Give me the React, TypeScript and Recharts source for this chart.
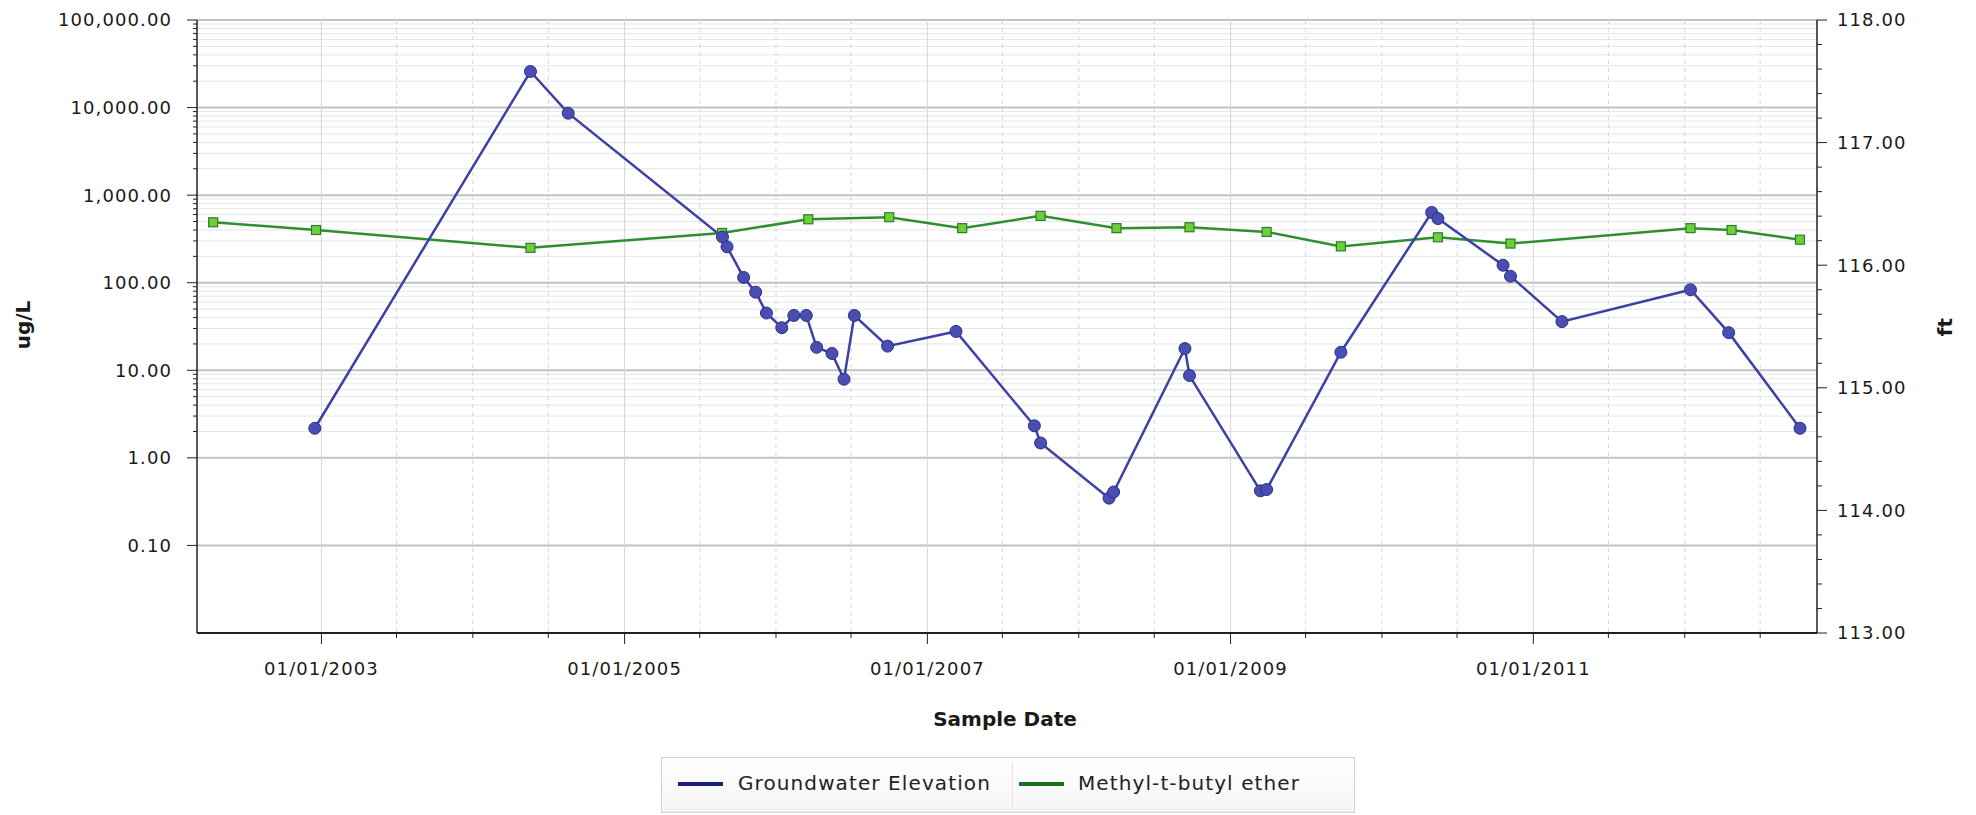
import { CartesianGrid, Line, LineChart, XAxis, YAxis } from "recharts";

const FONT = '"DejaVu Sans", Verdana, sans-serif';
const GW_COLOR = "#3d41a6";
const MTBE_COLOR = "#2f8f2f";

// Methyl-t-butyl ether, ug/L (left, log axis)
const mtbeDates = [
  "04/15/2002", "12/19/2002", "05/19/2004", "08/24/2005", "03/20/2006", "10/01/2006",
  "03/26/2007", "10/01/2007", "04/01/2008", "09/24/2008", "03/29/2009", "09/24/2009",
  "05/16/2010", "11/07/2010", "01/15/2012", "04/23/2012", "10/05/2012",
];
const mtbeValues = [490, 400, 250, 370, 530, 560, 420, 580, 420, 430, 380, 260, 330, 280, 420, 400, 310];

// Groundwater elevation, ft (right axis)
const gwDates = [
  "12/16/2002", "05/19/2004", "08/18/2004", "08/25/2005", "09/05/2005", "10/15/2005",
  "11/13/2005", "12/09/2005", "01/15/2006", "02/13/2006", "03/15/2006", "04/09/2006",
  "05/16/2006", "06/14/2006", "07/09/2006", "09/27/2006", "03/11/2007", "09/16/2007",
  "10/01/2007", "03/14/2008", "03/25/2008", "09/13/2008", "09/24/2008", "03/14/2009",
  "03/29/2009", "09/24/2009", "05/01/2010", "05/16/2010", "10/20/2010", "11/07/2010",
  "03/11/2011", "01/15/2012", "04/16/2012", "10/05/2012",
];
const gwValues = [
  114.67, 117.58, 117.24, 116.23, 116.15, 115.9, 115.78, 115.61, 115.49, 115.59, 115.59, 115.33,
  115.28, 115.07, 115.59, 115.34, 115.46, 114.69, 114.55, 114.1, 114.15, 115.32, 115.1, 114.16,
  114.17, 115.29, 116.43, 116.38, 116.0, 115.91, 115.54, 115.8, 115.45, 114.67,
];

const xDomainDates = ["03/07/2002", "11/15/2012"];
const xMajorTickDates = ["01/01/2003", "01/01/2005", "01/01/2007", "01/01/2009", "01/01/2011"];
const xMinorTickDates = [
  "07/01/2003", "01/01/2004", "07/01/2004", "07/01/2005", "01/01/2006", "07/01/2006",
  "07/01/2007", "01/01/2008", "07/01/2008", "07/01/2009", "01/01/2010", "07/01/2010",
  "07/01/2011", "01/01/2012", "07/01/2012",
];

const leftDomain = [0.01, 100000];
const leftMajorTicks = [0.1, 1, 10, 100, 1000, 10000, 100000];
const leftMinorSteps = [2, 3, 4, 5, 6, 7, 8, 9];
const leftMinorDecades = [1, 10, 100, 1000, 10000];

const rightDomain = [113, 118];
const rightMajorTicks = [113, 114, 115, 116, 117, 118];
const rightMinorSteps = [0.2, 0.4, 0.6, 0.8];

const ts = (s: string) => {
  const [m, d, y] = s.split("/").map(Number);
  return Date.UTC(y, m - 1, d);
};

const mtbeData = mtbeDates.map((d, i) => ({ t: ts(d), v: mtbeValues[i] }));
const gwData = gwDates.map((d, i) => ({ t: ts(d), v: gwValues[i] }));

const xMajor = xMajorTickDates.map(ts);
const xMinor = xMinorTickDates.map(ts);
const xTicks = [...xMajor, ...xMinor].sort((a, b) => a - b);
const leftMinorTicks = leftMinorDecades.flatMap((d) => leftMinorSteps.map((s) => d * s));
const leftTicks = [...leftMajorTicks, ...leftMinorTicks].sort((a, b) => a - b);
const rightMinorTicks = rightMajorTicks
  .slice(0, -1)
  .flatMap((m) => rightMinorSteps.map((s) => Number((m + s).toFixed(1))));
const rightTicks = [...rightMajorTicks, ...rightMinorTicks].sort((a, b) => a - b);

const fmtLeft = (v: number) =>
  v.toLocaleString("en-US", { minimumFractionDigits: 2, maximumFractionDigits: 2 });
const fmtDate = (t: number) => {
  const d = new Date(t);
  const mm = String(d.getUTCMonth() + 1).padStart(2, "0");
  const dd = String(d.getUTCDate()).padStart(2, "0");
  return `${mm}/${dd}/${d.getUTCFullYear()}`;
};

const tickText = { fontFamily: FONT, fontSize: 18, letterSpacing: 1.1, fill: "#1a1a1a" };

function LeftTick({ x, y, payload }: any) {
  const major = leftMajorTicks.includes(payload.value);
  return (
    <g>
      <line x1={x} x2={x - (major ? 10 : 4)} y1={y} y2={y} stroke="#222" strokeWidth={1} />
      {major && (
        <text x={x - 25} y={y} dy="0.36em" textAnchor="end" {...tickText}>
          {fmtLeft(payload.value)}
        </text>
      )}
    </g>
  );
}

function RightTick({ x, y, payload }: any) {
  const major = rightMajorTicks.includes(payload.value);
  return (
    <g>
      <line x1={x} x2={x + (major ? 10 : 5)} y1={y} y2={y} stroke="#222" strokeWidth={1} />
      {major && (
        <text x={x + 20} y={y} dy="0.36em" textAnchor="start" {...tickText}>
          {payload.value.toFixed(2)}
        </text>
      )}
    </g>
  );
}

function BottomTick({ x, y, payload }: any) {
  const major = xMajor.includes(payload.value);
  return (
    <g>
      <line x1={x} x2={x} y1={y} y2={y + (major ? 11 : 5)} stroke="#222" strokeWidth={1} />
      {major && (
        <text x={x} y={y + 42} textAnchor="middle" {...tickText}>
          {fmtDate(payload.value)}
        </text>
      )}
    </g>
  );
}

const squareDot = (p: any) => (
  <rect
    key={`sq-${p.index}`}
    x={p.cx - 4.5}
    y={p.cy - 4.5}
    width={9}
    height={9}
    fill="#6fcf3a"
    stroke="#2a7d2a"
    strokeWidth={1.2}
  />
);

const axisTitle = {
  position: "absolute" as const,
  fontFamily: FONT,
  fontWeight: 700,
  fontSize: 20,
  color: "#1a1a1a",
  whiteSpace: "nowrap" as const,
};

export default function App() {
  return (
    <div
      style={{
        position: "absolute",
        left: 0,
        top: 0,
        width: 1976,
        height: 815,
        background: "#fff",
        overflow: "hidden",
      }}
    >
      <LineChart
        width={1976}
        height={815}
        margin={{ top: 20, right: 59, bottom: 122, left: 97 }}
      >
        <CartesianGrid
          yAxisId="left"
          vertical={false}
          horizontalValues={leftMinorTicks}
          stroke="#e6e6e6"
          strokeWidth={1}
        />
        <CartesianGrid
          yAxisId="left"
          vertical={false}
          horizontalValues={leftMajorTicks}
          stroke="#c2c2c2"
          strokeWidth={2}
        />
        <CartesianGrid
          yAxisId="left"
          horizontal={false}
          verticalValues={xMinor}
          stroke="#d6d6d6"
          strokeDasharray="4 4"
        />
        <CartesianGrid
          yAxisId="left"
          horizontal={false}
          verticalValues={xMajor}
          stroke="#d6d6d6"
        />
        <XAxis
          dataKey="t"
          type="number"
          domain={xDomainDates.map(ts)}
          allowDataOverflow
          ticks={xTicks}
          interval={0}
          tickSize={0}
          tickMargin={0}
          tickLine={false}
          height={60}
          axisLine={{ stroke: "#222", strokeWidth: 2 }}
          tick={BottomTick}
        />
        <YAxis
          yAxisId="left"
          type="number"
          scale="log"
          domain={leftDomain}
          allowDataOverflow
          ticks={leftTicks}
          interval={0}
          tickSize={0}
          tickMargin={0}
          tickLine={false}
          width={100}
          axisLine={{ stroke: "#222", strokeWidth: 1.5 }}
          tick={LeftTick}
        />
        <YAxis
          yAxisId="right"
          orientation="right"
          type="number"
          domain={rightDomain}
          allowDataOverflow
          ticks={rightTicks}
          interval={0}
          tickSize={0}
          tickMargin={0}
          tickLine={false}
          width={100}
          axisLine={{ stroke: "#222", strokeWidth: 1.5 }}
          tick={RightTick}
        />
        <Line
          data={mtbeData}
          dataKey="v"
          yAxisId="left"
          name="Methyl-t-butyl ether"
          stroke={MTBE_COLOR}
          strokeWidth={2.5}
          dot={squareDot}
          activeDot={false}
          isAnimationActive={false}
        />
        <Line
          data={gwData}
          dataKey="v"
          yAxisId="right"
          name="Groundwater Elevation"
          stroke={GW_COLOR}
          strokeWidth={2.5}
          dot={{ r: 6, fill: "#4a4eb3", stroke: "#2c2f85", strokeWidth: 1 }}
          activeDot={false}
          isAnimationActive={false}
        />
      </LineChart>

      <div style={{ ...axisTitle, left: 23, top: 325, transform: "translate(-50%, -50%) rotate(-90deg)" }}>
        ug/L
      </div>
      <div style={{ ...axisTitle, left: 1945, top: 327, transform: "translate(-50%, -50%) rotate(-90deg)" }}>
        ft
      </div>
      <div style={{ ...axisTitle, left: 1005, top: 719, transform: "translate(-50%, -50%)" }}>
        Sample Date
      </div>

      <div
        style={{
          position: "absolute",
          left: 661,
          top: 757,
          width: 694,
          height: 56,
          boxSizing: "border-box",
          border: "1px solid #d2d2d2",
          background: "linear-gradient(#ffffff, #f5f5f5)",
          fontFamily: FONT,
          fontSize: 20,
          letterSpacing: 1.1,
          color: "#222",
        }}
      >
        <div style={{ position: "absolute", left: 16, top: 24, width: 45, height: 4, background: "#1d1f80" }} />
        <div style={{ position: "absolute", left: 76, top: 13 }}>Groundwater Elevation</div>
        <div style={{ position: "absolute", left: 350, top: 4, width: 1, height: 46, background: "#e4e4e4" }} />
        <div style={{ position: "absolute", left: 357, top: 24, width: 45, height: 4, background: "#1d6e1d" }} />
        <div style={{ position: "absolute", left: 416, top: 13 }}>Methyl-t-butyl ether</div>
      </div>
    </div>
  );
}
